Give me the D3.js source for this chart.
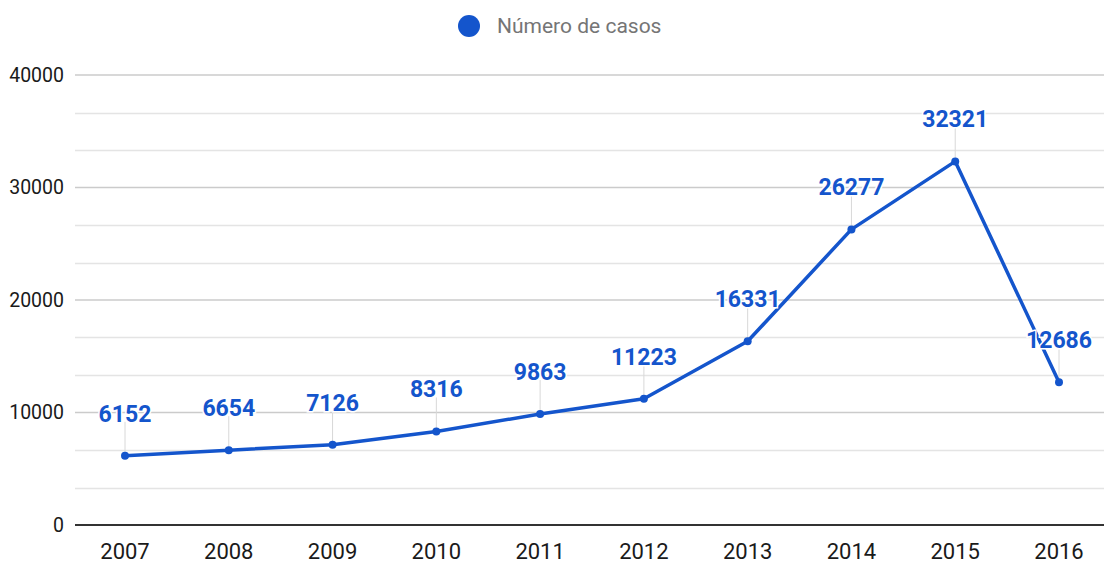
<!DOCTYPE html>
<html>
<head>
<meta charset="utf-8">
<script src="https://cdn.jsdelivr.net/npm/d3@7"></script>
<style>
  body { margin: 0; background: #fff; }
  text { font-family: Roboto, "Noto Sans", sans-serif; }
</style>
</head>
<body>
<script>
// data
var years = ["2007", "2008", "2009", "2010", "2011", "2012", "2013", "2014", "2015", "2016"];
var casos = [6152, 6654, 7126, 8316, 9863, 11223, 16331, 26277, 32321, 12686];
var yTicks = [0, 10000, 20000, 30000, 40000];
var seriesName = "Número de casos";

var width = 1104, height = 564;
var blue = "#1455cc";

var svg = d3.select("body").append("svg")
    .attr("width", width)
    .attr("height", height);

var x = d3.scalePoint()
    .domain(years)
    .range([125, 1059]);

var y = d3.scaleLinear()
    .domain([0, 40000])
    .range([525, 75]);

// minor gridlines (each 10000 split in three)
var minor = [];
for (var i = 0; i < yTicks.length - 1; i++) {
    minor.push(yTicks[i] + 10000 / 3, yTicks[i] + 20000 / 3);
}
svg.append("g").selectAll("line").data(minor).enter().append("line")
    .attr("x1", 75).attr("x2", width)
    .attr("y1", function(d) { return Math.round(y(d)) + 0.5; })
    .attr("y2", function(d) { return Math.round(y(d)) + 0.5; })
    .attr("stroke", "#e4e4e4")
    .attr("stroke-width", 1.5);

// major gridlines
svg.append("g").selectAll("line").data(yTicks.slice(1)).enter().append("line")
    .attr("x1", 75).attr("x2", width)
    .attr("y1", function(d) { return y(d); })
    .attr("y2", function(d) { return y(d); })
    .attr("stroke", "#cbcbcb")
    .attr("stroke-width", 1.5);

// baseline
svg.append("line")
    .attr("x1", 75).attr("x2", width)
    .attr("y1", y(0)).attr("y2", y(0))
    .attr("stroke", "#333")
    .attr("stroke-width", 2);

// y axis labels
svg.append("g").selectAll("text").data(yTicks).enter().append("text")
    .attr("x", 64)
    .attr("y", function(d) { return y(d); })
    .attr("dy", "0.35em")
    .attr("text-anchor", "end")
    .attr("font-size", 19.5)
    .attr("fill", "#1a1a1a")
    .text(function(d) { return d; });

// x axis labels
svg.append("g").selectAll("text").data(years).enter().append("text")
    .attr("x", function(d) { return x(d); })
    .attr("y", 559)
    .attr("font-size", 22)
    .attr("text-anchor", "middle")
    .attr("fill", "#1a1a1a")
    .text(function(d) { return d; });

// leader lines
svg.append("g").selectAll("line").data(casos).enter().append("line")
    .attr("x1", function(d, i) { return x(years[i]); })
    .attr("x2", function(d, i) { return x(years[i]); })
    .attr("y1", function(d) { return y(d); })
    .attr("y2", function(d) { return y(d) - 34; })
    .attr("stroke", "#d8d8d8")
    .attr("stroke-width", 1);

// line
var line = d3.line()
    .x(function(d, i) { return x(years[i]); })
    .y(function(d) { return y(d); });

svg.append("path")
    .datum(casos)
    .attr("d", line)
    .attr("fill", "none")
    .attr("stroke", blue)
    .attr("stroke-width", 3.5)
    .attr("stroke-linejoin", "round");

svg.append("g").selectAll("circle").data(casos).enter().append("circle")
    .attr("cx", function(d, i) { return x(years[i]); })
    .attr("cy", function(d) { return y(d); })
    .attr("r", 4)
    .attr("fill", blue);

// value labels
svg.append("g").selectAll("text").data(casos).enter().append("text")
    .attr("x", function(d, i) { return x(years[i]); })
    .attr("y", function(d) { return y(d) - 42; })
    .attr("dy", "0.35em")
    .attr("text-anchor", "middle")
    .attr("font-size", 23)
    .attr("font-weight", "bold")
    .attr("fill", blue)
    .attr("stroke", "#fff")
    .attr("stroke-width", 3)
    .attr("paint-order", "stroke")
    .text(function(d) { return d; });

// legend
var legend = svg.append("g");
legend.append("circle")
    .attr("cx", 469).attr("cy", 26).attr("r", 11)
    .attr("fill", blue);
legend.append("text")
    .attr("x", 497).attr("y", 26)
    .attr("dy", "0.35em")
    .attr("font-size", 21)
    .attr("fill", "#757575")
    .text(seriesName);
</script>
</body>
</html>
